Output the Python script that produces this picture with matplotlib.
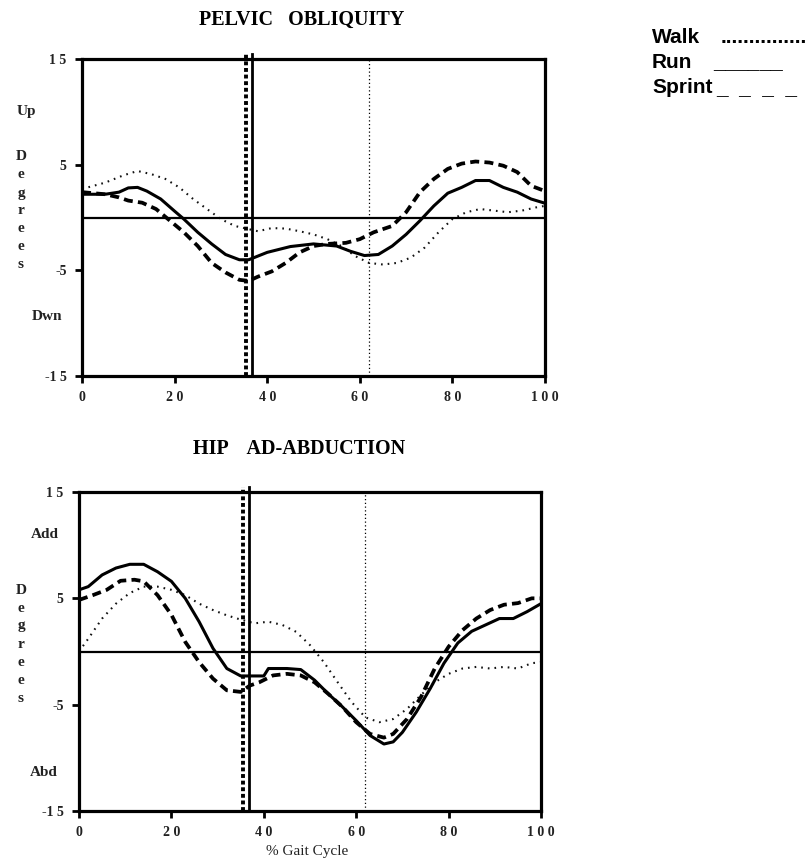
import numpy as np
import matplotlib
matplotlib.use("Agg")
import matplotlib.pyplot as plt

# % gait cycle samples and joint angles (degrees)
pel_walk_x = [0, 5, 9, 12, 15, 18, 21, 24, 27, 30, 33, 36, 38, 41, 44, 47, 50, 53, 56,
              59, 62, 65, 68, 71, 74, 77, 80, 83, 86, 89, 92, 95, 98, 100]
pel_walk_y = [2.7, 3.3, 4.0, 4.4, 4.1, 3.65, 2.85, 1.75, 0.8, -0.15, -0.8, -1.1, -1.3, -1.0,
              -1.05, -1.3, -1.6, -2.05, -2.7, -3.65, -4.3, -4.45, -4.3, -3.8, -2.85, -1.4,
              -0.15, 0.5, 0.8, 0.65, 0.5, 0.65, 0.95, 1.1]
pel_run_x = [0, 5, 8, 10, 12, 14, 17, 20, 22, 25, 28, 31, 34, 36, 38, 40, 45, 50, 55, 58,
             61, 64, 67, 70, 73, 76, 79, 82, 85, 88, 91, 94, 97, 100]
pel_run_y = [2.2, 2.2, 2.4, 2.8, 2.85, 2.5, 1.75, 0.6, -0.15, -1.4, -2.5, -3.5, -4.0, -4.0,
             -3.65, -3.3, -2.75, -2.5, -2.7, -3.2, -3.6, -3.5, -2.7, -1.6, -0.3, 1.1, 2.3,
             2.85, 3.5, 3.5, 2.85, 2.4, 1.75, 1.35]
pel_sprint_x = [0, 5, 8, 10, 13, 16, 19, 22, 25, 28, 31, 34, 36, 38, 41, 44, 47, 50, 53, 57,
                60, 63, 67, 70, 73, 76, 79, 82, 85, 88, 91, 94, 97, 100]
pel_sprint_y = [2.4, 2.2, 1.9, 1.6, 1.4, 0.8, -0.3, -1.4, -2.7, -4.3, -5.2, -5.9, -6.0, -5.6,
                -5.1, -4.3, -3.3, -2.7, -2.5, -2.4, -2.05, -1.4, -0.8, 0.5, 2.4, 3.65, 4.6,
                5.1, 5.3, 5.2, 4.9, 4.3, 3.0, 2.5]

hip_walk_x = [0, 2, 5, 8, 11, 14, 17, 20, 23, 26, 29, 32, 35, 38, 41, 44, 47, 50, 53, 56,
              59, 62, 65, 68, 71, 74, 77, 80, 83, 86, 89, 92, 95, 98, 100]
hip_walk_y = [0.0, 1.2, 3.1, 4.5, 5.5, 6.1, 6.1, 5.8, 5.3, 4.5, 3.9, 3.4, 3.0, 2.65, 2.8,
              2.5, 1.85, 0.6, -1.0, -2.9, -4.75, -6.2, -6.65, -6.35, -5.4, -4.1, -2.9, -2.1,
              -1.6, -1.45, -1.6, -1.45, -1.6, -1.1, -1.0]
hip_run_x = [0, 2, 5, 8, 11, 14, 17, 20, 23, 26, 29, 32, 35, 38, 40, 41, 45, 48, 51, 54,
             57, 60, 63, 66, 68, 70, 73, 76, 79, 82, 85, 88, 91, 94, 97, 100]
hip_run_y = [5.8, 6.1, 7.2, 7.85, 8.2, 8.2, 7.5, 6.6, 5.0, 2.8, 0.3, -1.6, -2.3, -2.3, -2.3,
             -1.6, -1.6, -1.7, -2.7, -4.0, -5.2, -6.5, -7.9, -8.7, -8.5, -7.6, -5.7, -3.5,
             -1.1, 0.8, 1.9, 2.5, 3.1, 3.1, 3.75, 4.5]
hip_sprint_x = [0, 3, 6, 9, 12, 14, 17, 20, 23, 26, 29, 32, 35, 37, 39, 42, 45, 48, 51, 54,
                57, 60, 63, 66, 68, 71, 74, 77, 80, 83, 86, 89, 92, 95, 98, 100]
hip_sprint_y = [4.85, 5.3, 5.8, 6.65, 6.75, 6.6, 5.3, 3.45, 0.9, -1.0, -2.55, -3.65, -3.8,
                -3.2, -2.9, -2.25, -2.1, -2.25, -2.9, -4.0, -5.2, -6.65, -7.75, -8.1, -7.75,
                -6.35, -4.3, -1.6, 0.45, 2.0, 3.1, 3.9, 4.4, 4.55, 5.0, 5.0]

# toe-off events (% gait cycle)
toe_off_sprint = 35.5
toe_off_run = 36.8
toe_off_walk = 62.0

xticks = [0, 20, 40, 60, 80, 100]
xtick_labels = ['0', '2 0', '4 0', '6 0', '8 0', '1 0 0']
yticks = [15, 5, -5, -15]
ytick_labels = ['1 5', '5', '-5', '-1 5']

serif = 'Liberation Serif'

fig = plt.figure(figsize=(8.11, 8.61), dpi=100)
ax1 = fig.add_axes([82 / 811, 1 - 376 / 861, 463 / 811, 317 / 861])
ax2 = fig.add_axes([79 / 811, 1 - 811 / 861, 462 / 811, 319 / 861])


def draw_panel(ax, walk, run, sprint):
    ax.plot(walk[0], walk[1], color='#111111', lw=1.5, dashes=(0.8, 2.4))
    ax.plot(run[0], run[1], color='black', lw=2.2)
    ax.plot(sprint[0], sprint[1], color='black', lw=2.7, dashes=(2.4, 1.4))
    ax.axhline(0, color='black', lw=1.6)
    ax.axvline(toe_off_sprint, ymax=1.015, color='black', lw=2.8, dashes=(1.0, 0.7),
               clip_on=False)
    ax.axvline(toe_off_run, ymax=1.015, color='black', lw=2.0, clip_on=False)
    ax.axvline(toe_off_walk, color='black', lw=0.9, dashes=(1, 2))
    ax.set_xlim(0, 100)
    ax.set_ylim(-15, 15)
    ax.set_xticks(xticks)
    ax.set_xticklabels(xtick_labels)
    ax.set_yticks(yticks)
    ax.set_yticklabels(ytick_labels)
    for s in ax.spines.values():
        s.set_linewidth(2.3)
    ax.tick_params(direction='out', length=5, width=2, pad=6)
    for lab in ax.get_xticklabels() + ax.get_yticklabels():
        lab.set_fontfamily(serif)
        lab.set_fontweight('bold')
        lab.set_fontsize(10)
        lab.set_color('#222222')


draw_panel(ax1, (pel_walk_x, pel_walk_y), (pel_run_x, pel_run_y),
           (pel_sprint_x, pel_sprint_y))
draw_panel(ax2, (hip_walk_x, hip_walk_y), (hip_run_x, hip_run_y),
           (hip_sprint_x, hip_sprint_y))

lab_kw = dict(family=serif, weight='bold', fontsize=11, color='#222222',
              ha='center', va='center')

# panel titles
fig.text(302 / 811, 1 - 20 / 861, 'PELVIC   OBLIQUITY', family=serif, weight='bold',
         fontsize=14.5, ha='center', va='center')
fig.text(299 / 811, 1 - 449 / 861, 'HIP    AD-ABDUCTION', family=serif, weight='bold',
         fontsize=14.5, ha='center', va='center')

# y-axis labels
fig.text(26 / 811, 1 - 111 / 861, 'Up', **lab_kw)
fig.text(47 / 811, 1 - 316 / 861, 'Dwn', **lab_kw)
fig.text(21 / 811, 1 - 211 / 861, '\n'.join('Degrees'), linespacing=1.5, **lab_kw)
fig.text(45 / 811, 1 - 535 / 861, 'Add', **lab_kw)
fig.text(44 / 811, 1 - 772 / 861, 'Abd', **lab_kw)
fig.text(21 / 811, 1 - 644 / 861, '\n'.join('Degrees'), linespacing=1.5, **lab_kw)

fig.text(307 / 811, 1 - 851 / 861, '% Gait Cycle', family=serif, fontsize=11,
         color='#222222', ha='center', va='center')

# legend
leg_kw = dict(family='Liberation Sans', weight='bold', fontsize=15, va='baseline')
fig.text(652 / 811, 1 - 43 / 861, 'Walk', **leg_kw)
fig.text(721 / 811, 1 - 43 / 861, '.' * 15, **leg_kw)
fig.text(652 / 811, 1 - 68 / 861, 'Run', **leg_kw)
fig.text(713 / 811, 1 - 68 / 861, '______', **leg_kw)
fig.text(652 / 811, 1 - 93 / 861, 'Sprint', **leg_kw)
fig.text(716 / 811, 1 - 93 / 861, '_  _  _  _', **leg_kw)

fig.savefig('out.png', dpi=100)
